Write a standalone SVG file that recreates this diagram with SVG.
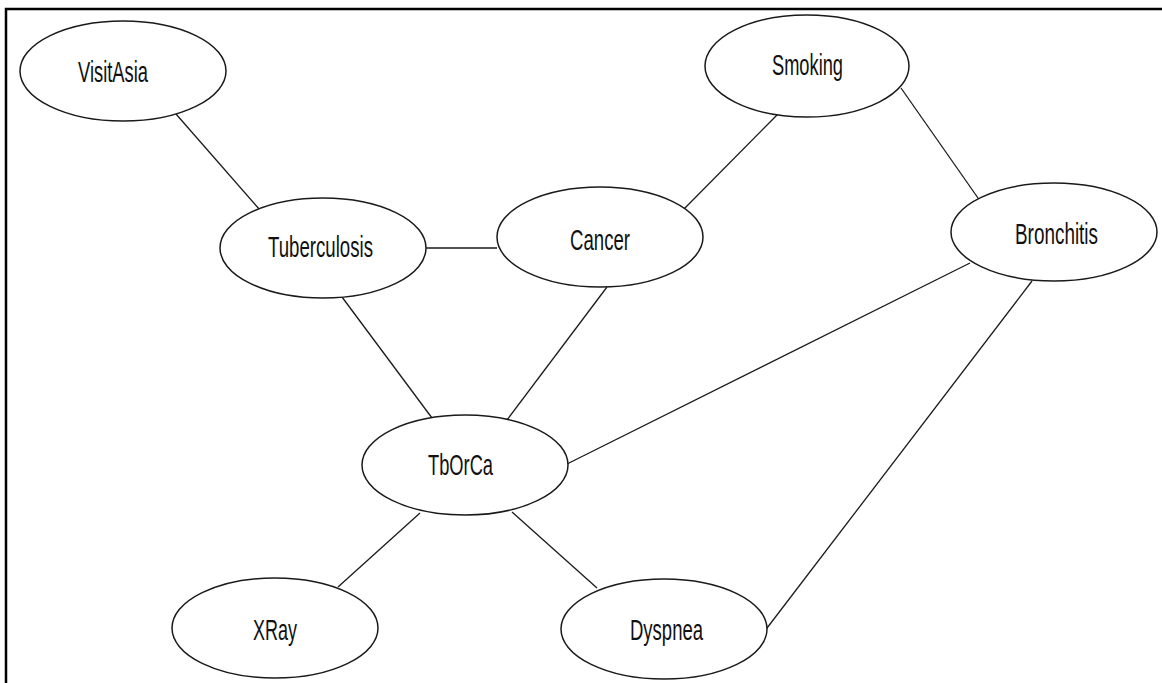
<svg xmlns="http://www.w3.org/2000/svg" width="1162" height="683" viewBox="0 0 1162 683">
<style>
.frame{stroke:#000;stroke-width:2.5;fill:none}
.node ellipse{fill:#fff;stroke:#1a1a1a;stroke-width:1.5}
.node text{font-family:"Liberation Sans",Arial,sans-serif;font-size:30px;fill:#111}
.edges line{stroke:#1a1a1a;stroke-width:1.3}
</style>
<rect width="1162" height="683" fill="#fff"/>
<path class="frame" d="M6,683 V9 H1162"/>
<g class="edges" id="connectors">
<line x1="176" y1="114" x2="260" y2="210"/>
<line x1="779" y1="113" x2="683" y2="210"/>
<line x1="901" y1="88" x2="985" y2="208"/>
<line x1="426" y1="248" x2="497" y2="248"/>
<line x1="342" y1="297" x2="432" y2="418"/>
<line x1="607" y1="287" x2="507" y2="420"/>
<line x1="970" y1="263" x2="567" y2="464"/>
<line x1="1032" y1="281" x2="764" y2="632"/>
<line x1="420" y1="513" x2="338" y2="587"/>
<line x1="512" y1="512" x2="597" y2="588"/>
</g>
<g class="node" id="VisitAsia"><ellipse cx="123" cy="71" rx="103" ry="50"/><text x="78" y="82" textLength="70" lengthAdjust="spacingAndGlyphs">VisitAsia</text></g>
<g class="node" id="Smoking"><ellipse cx="807" cy="66" rx="102" ry="51"/><text x="772" y="75" textLength="71" lengthAdjust="spacingAndGlyphs">Smoking</text></g>
<g class="node" id="Tuberculosis"><ellipse cx="323" cy="248" rx="103" ry="50"/><text x="268" y="257" textLength="105" lengthAdjust="spacingAndGlyphs">Tuberculosis</text></g>
<g class="node" id="Cancer"><ellipse cx="600" cy="237" rx="103" ry="50"/><text x="570" y="250" textLength="60" lengthAdjust="spacingAndGlyphs">Cancer</text></g>
<g class="node" id="Bronchitis"><ellipse cx="1054" cy="232" rx="103" ry="49"/><text x="1015" y="244" textLength="83" lengthAdjust="spacingAndGlyphs">Bronchitis</text></g>
<g class="node" id="TbOrCa"><ellipse cx="465" cy="465" rx="103" ry="50"/><text x="428" y="475" textLength="65" lengthAdjust="spacingAndGlyphs">TbOrCa</text></g>
<g class="node" id="XRay"><ellipse cx="275" cy="628" rx="103" ry="50"/><text x="253" y="640" textLength="44" lengthAdjust="spacingAndGlyphs">XRay</text></g>
<g class="node" id="Dyspnea"><ellipse cx="664" cy="629" rx="103" ry="50"/><text x="630" y="640" textLength="73" lengthAdjust="spacingAndGlyphs">Dyspnea</text></g>
</svg>
